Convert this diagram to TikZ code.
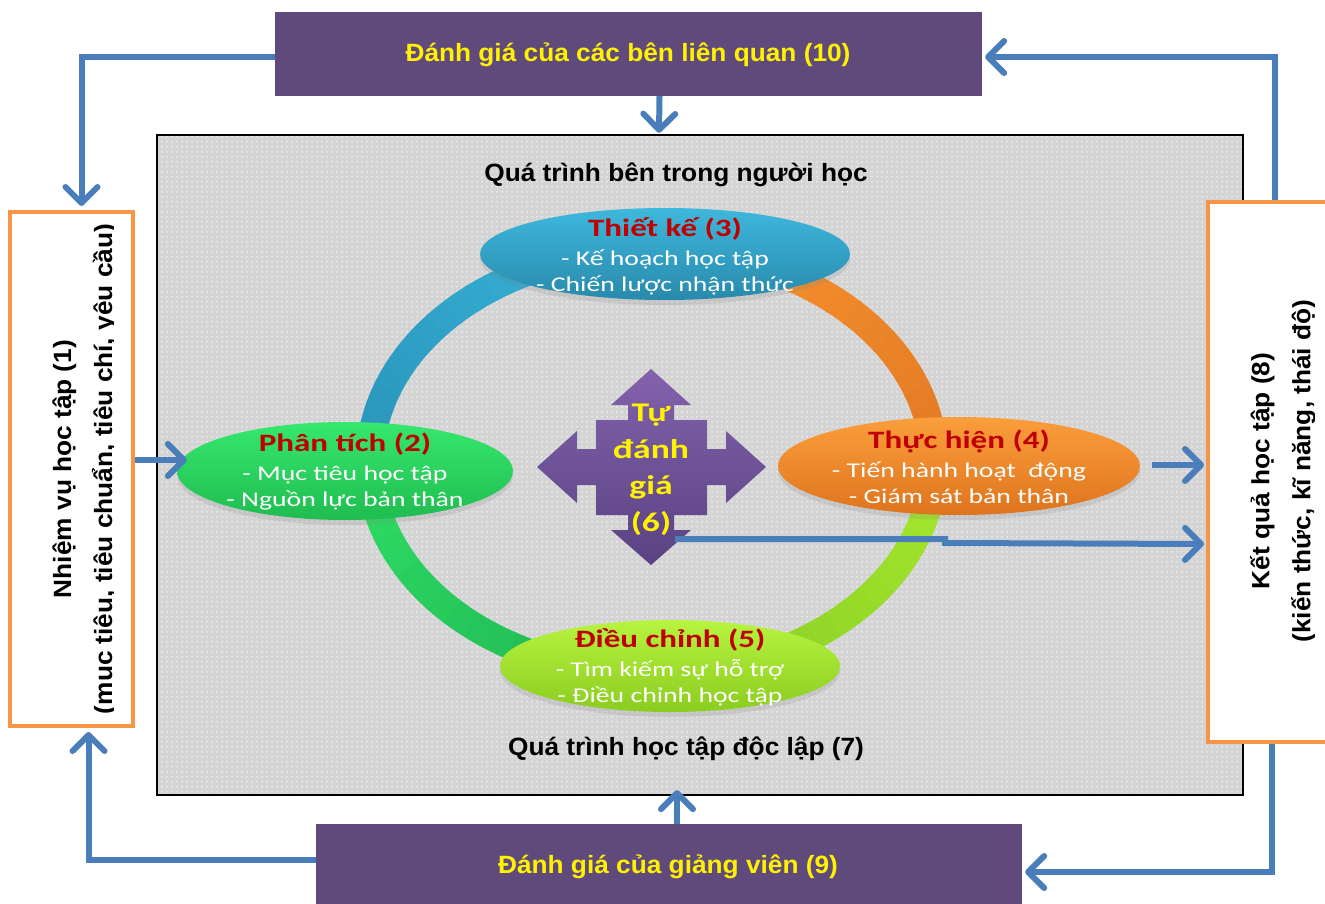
\documentclass[tikz,border=0pt]{standalone}
\usepackage{fontspec}
\newfontfamily\arialf[FakeStretch=1.05]{Liberation Sans}
\newfontfamily\calib[FakeStretch=1.32]{Carlito}
\usetikzlibrary{shapes.geometric,arrows.meta,calc,patterns,shadows}
\definecolor{boxpurple}{RGB}{96,74,123}
\definecolor{flowblue}{RGB}{74,126,187}
\definecolor{boxorange}{RGB}{247,150,70}
\definecolor{titred}{RGB}{192,0,0}
\definecolor{panelgray}{RGB}{212,212,212}
\definecolor{tkTop}{RGB}{62,184,220}
\definecolor{tkBot}{RGB}{40,138,172}
\definecolor{ptTop}{RGB}{54,232,110}
\definecolor{ptBot}{RGB}{32,188,80}
\definecolor{thTop}{RGB}{251,158,60}
\definecolor{thBot}{RGB}{222,116,30}
\definecolor{dcTop}{RGB}{184,244,64}
\definecolor{dcBot}{RGB}{138,204,32}
\definecolor{crossTop}{RGB}{130,98,172}
\definecolor{crossBot}{RGB}{90,66,130}
\definecolor{ringAa}{RGB}{42,148,186}
\definecolor{ringAb}{RGB}{56,180,216}
\definecolor{ringBa}{RGB}{248,148,50}
\definecolor{ringBb}{RGB}{226,122,34}
\definecolor{ringCa}{RGB}{166,232,46}
\definecolor{ringCb}{RGB}{134,204,36}
\definecolor{ringDa}{RGB}{32,180,82}
\definecolor{ringDb}{RGB}{46,222,100}
\pgfdeclarepatternformonly{paneldots}{\pgfpointorigin}{\pgfqpoint{5pt}{5pt}}{\pgfqpoint{5pt}{5pt}}{\pgfpathcircle{\pgfqpoint{2.5pt}{2.5pt}}{0.9pt}\pgfusepath{fill}}
\begin{document}
\begin{tikzpicture}[x=1pt,y=-1pt,
  flow/.style={draw=flowblue, line width=6pt, -{Straight Barb[length=16pt,width=32pt,round]}},
  evalbox/.style={fill=boxpurple, inner sep=0pt, minimum width=707pt},
  evaltext/.style={text=yellow, font=\arialf\bfseries\fontsize{25}{30}\selectfont},
  sidebox/.style={draw=boxorange, line width=4pt, fill=white, inner sep=0pt},
  sidetext/.style={rotate=90, align=center, inner sep=0pt, font=\arialf\bfseries\fontsize{25}{41}\selectfont},
  stage/.style={ellipse, inner sep=0pt, drop shadow={shadow xshift=0pt, shadow yshift=-5pt, opacity=0.18}},
  stagetext/.style={align=center, text=white, inner sep=0pt, font=\calib\fontsize{21}{26}\selectfont},
  paneltext/.style={font=\arialf\bfseries\fontsize{25}{30}\selectfont},
]
\useasboundingbox (0,0) rectangle (1325,904);
\fill[white] (0,0) rectangle (1325,904);

% inner panel
\node[inner sep=0pt, minimum width=1086pt, minimum height=660pt, fill=panelgray,
  postaction={fill, pattern=paneldots, pattern color=white},
  postaction={draw=black, line width=2.5pt}] (inner) at (700,465) {};

% ring
\foreach \sa/\ca/\cb in {180/ringAa/ringAb, 270/ringBa/ringBb, 0/ringCa/ringCb, 90/ringDa/ringDb}{
  \foreach \i in {0,...,17}{
    \pgfmathsetmacro\p{\i*100/17}
    \pgfmathsetmacro\s{\sa+\i*5}
    \pgfmathsetmacro\e{\sa+\i*5+5.6}
    \draw[line width=28pt, \cb!\p!\ca] (652,462) ++(\s:282 and 212)
      arc[start angle=\s, end angle=\e, x radius=282, y radius=212];
  }
}

% stages
\node[stage, minimum width=370pt, minimum height=92pt, top color=tkTop, bottom color=tkBot] (tk) at (665,254) {};
\node[stage, minimum width=336pt, minimum height=98pt, top color=ptTop, bottom color=ptBot] (pt) at (345,471) {};
\node[stage, minimum width=362pt, minimum height=98pt, top color=thTop, bottom color=thBot] (th) at (959,466) {};
\node[stage, minimum width=340pt, minimum height=92pt, top color=dcTop, bottom color=dcBot] (dc) at (670,666) {};

\node[stagetext] (tkT) at ($(tk)+(0,2)$) {{\bfseries\fontsize{25}{26}\selectfont\color{titred}Thiết kế (3)}\\[3pt]- Kế hoạch học tập\\- Chiến lược nhận thức};
\node[stagetext] (ptT) at ($(pt)+(0,1)$) {{\bfseries\fontsize{25}{26}\selectfont\color{titred}Phân tích (2)}\\[3pt]- Mục tiêu học tập\\- Nguồn lực bản thân};
\node[stagetext] (thT) at ($(th)+(0,1)$) {{\bfseries\fontsize{25}{26}\selectfont\color{titred}Thực hiện (4)}\\[3pt]- Tiến hành hoạt\ \ động\\- Giám sát bản thân};
\node[stagetext] (dcT) at ($(dc)+(0,1)$) {{\bfseries\fontsize{25}{26}\selectfont\color{titred}Điều chỉnh (5)}\\[3pt]- Tìm kiếm sự hỗ trợ\\- Điều chỉnh học tập};

% self-assessment cross
\coordinate (cross) at (651,467);
\shade[top color=crossTop, bottom color=crossBot]
  (651,369) -- (691,405) -- (674,405) -- (674,420) -- (707,420) -- (707,449) -- (726,449) -- (726,431)
  -- (766,467) -- (726,503) -- (726,485) -- (707,485) -- (707,515) -- (674,515) -- (674,530) -- (691,530)
  -- (651,565) -- (611,530) -- (628,530) -- (628,515) -- (596,515) -- (596,485) -- (577,485) -- (577,503)
  -- (537,467) -- (577,431) -- (577,449) -- (596,449) -- (596,420) -- (628,420) -- (628,405) -- (611,405) -- cycle;
\node[align=center, inner sep=0pt, text=yellow, font=\calib\bfseries\fontsize{27}{36.5}\selectfont] (crossT) at (651,470) {Tự\\đánh\\giá\\(6)};

% panel titles
\node[paneltext] (innerT) at (676,175) {Quá trình bên trong người học};
\node[paneltext] (indepT) at (686,749) {Quá trình học tập độc lập (7)};

% evaluation boxes
\node[evalbox, minimum height=84pt] (top) at (628.5,54) {};
\node[evaltext] (topT) at (628,55) {Đánh giá của các bên liên quan (10)};
\node[evalbox, minimum width=706pt, minimum height=82pt] (bot) at (669,865) {};
\node[evaltext] (botT) at (668,867) {Đánh giá của giảng viên (9)};

% side boxes
\node[sidebox, minimum width=123pt, minimum height=514pt] (nv) at (71.5,469) {};
\begin{scope}
  \clip (14,214) rectangle (113.5,724);
  \node[sidetext] (nvT) at (85,469) {Nhiệm vụ học tập (1)\\(mục tiêu, tiêu chuẩn, tiêu chí, yêu cầu)};
\end{scope}
\node[sidebox, minimum width=140pt, minimum height=540pt] (kq) at (1278,472) {};
\begin{scope}
  \clip (1212,204) rectangle (1314,740);
  \node[sidetext] (kqT) at (1283,471) {Kết quả học tập (8)\\(kiến thức, kĩ năng, thái độ)};
\end{scope}

% connectors
\draw[flow] ($(top.west)+(0,3)$) -| ($(nv.north)+(10,-4)$);
\draw[flow] ($(top.south)+(31,0)$) -- ($(inner.north)+(-41,-2)$);
\draw[flow] ($(kq.north)+(-3,0)$) |- ($(top.east)+(3,3)$);
\draw[flow] ($(kq.south)+(-6,0)$) |- ($(bot.east)+(3,7)$);
\draw[flow] ($(bot.west)+(0,-5)$) -| ($(nv.south)+(17,4)$);
\draw[flow] ($(bot.north)+(8,0)$) -- ($(inner.south)+(-23,-5)$);
\draw[flow] ($(nv.east)+(0,-9)$) -- ($(pt.west)+(10,-11)$);
\draw[flow] ($(th.east)+(12,-1)$) -- ($(kq.west)+(-2,-7)$);
\draw[flow] ($(cross)+(24,72)$) -- ++(270,0) -- ++(0,4) -- ($(kq.west)+(-2,72)$);
\end{tikzpicture}
\end{document}
